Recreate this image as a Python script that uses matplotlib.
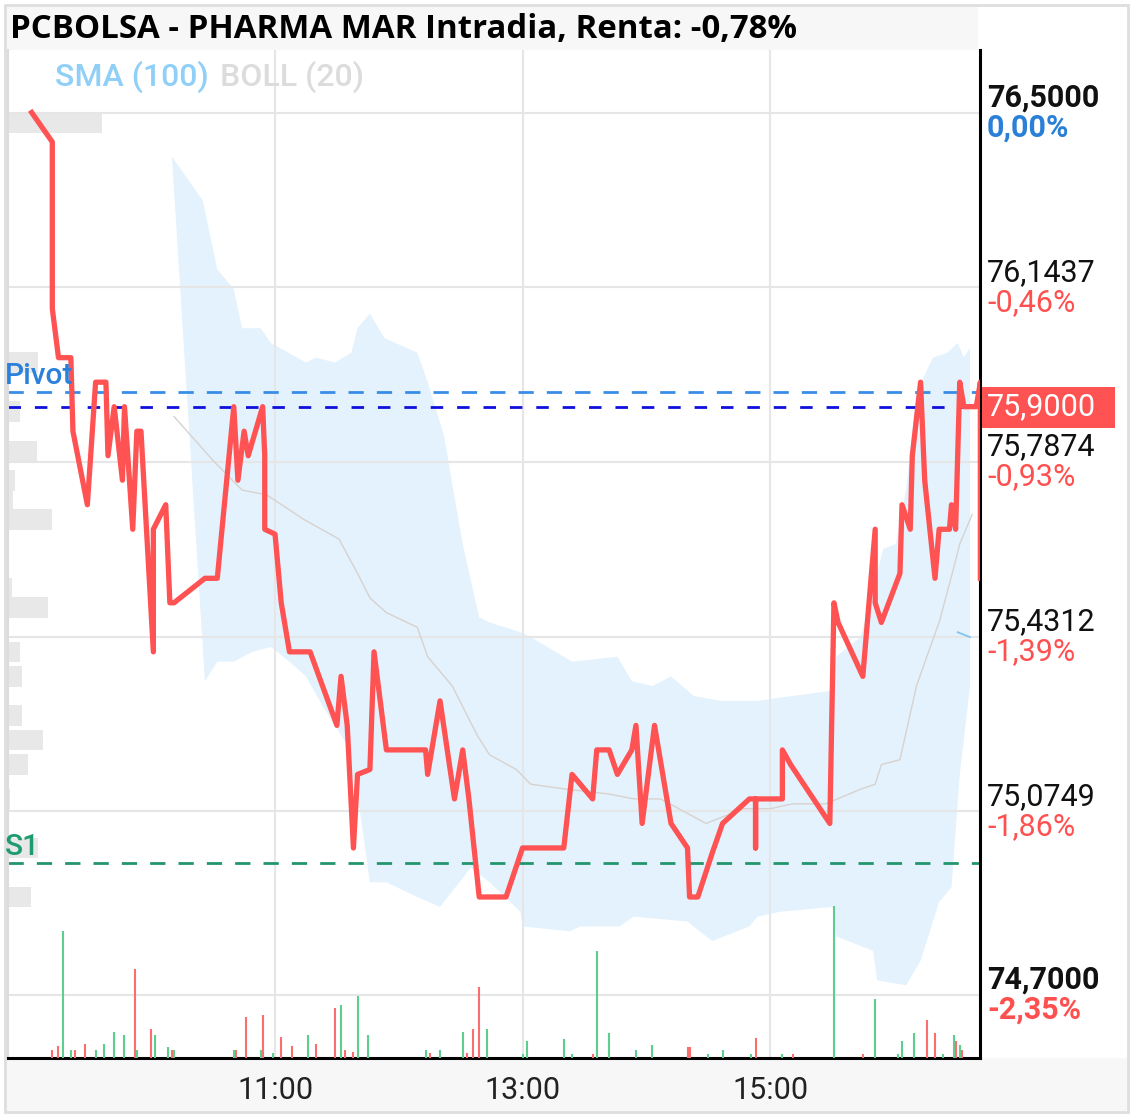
import matplotlib
matplotlib.use('Agg')
import matplotlib.pyplot as plt
from matplotlib.patches import Rectangle

# ---- data ----
title = 'PCBOLSA - PHARMA MAR Intradia, Renta: -0,78%'

# intraday price (time, price)
price_t = ['9:02', '9:12', '9:12', '9:15', '9:21', '9:22', '9:29', '9:33', '9:38', '9:39',
           '9:42', '9:46', '9:47', '9:51', '9:53', '9:55', '10:01', '10:01', '10:07', '10:09',
           '10:11', '10:26', '10:32', '10:40', '10:42', '10:45', '10:47', '10:54', '10:55', '10:55',
           '11:00', '11:03', '11:07', '11:17', '11:30', '11:32', '11:35', '11:38', '11:40', '11:46',
           '11:48', '11:54', '12:13', '12:14', '12:20', '12:27', '12:31', '12:34', '12:39', '12:52',
           '13:00', '13:20', '13:24', '13:34', '13:36', '13:42', '13:46', '13:53', '13:55', '13:58',
           '14:04', '14:12', '14:20', '14:21', '14:25', '14:32', '14:37', '14:50', '14:53', '14:53',
           '14:53', '15:06', '15:06', '15:10', '15:29', '15:31', '15:33', '15:45', '15:51', '15:51',
           '15:54', '16:03', '16:04', '16:08', '16:09', '16:13', '16:15', '16:20', '16:22', '16:27',
           '16:28', '16:30', '16:31', '16:32', '16:34', '16:40', '16:42', '16:42']
price_v = [76.50, 76.44, 76.10, 76.00, 76.00, 75.85, 75.70, 75.95, 75.95, 75.80,
           75.90, 75.75, 75.90, 75.65, 75.85, 75.85, 75.40, 75.65, 75.70, 75.50,
           75.50, 75.55, 75.55, 75.90, 75.75, 75.85, 75.80, 75.90, 75.80, 75.65,
           75.64, 75.50, 75.40, 75.40, 75.25, 75.35, 75.25, 75.00, 75.15, 75.16,
           75.40, 75.20, 75.20, 75.15, 75.30, 75.10, 75.20, 75.10, 74.90, 74.90,
           75.00, 75.00, 75.15, 75.10, 75.20, 75.20, 75.15, 75.20, 75.25, 75.05,
           75.25, 75.05, 75.00, 74.90, 74.90, 74.99, 75.05, 75.10, 75.10, 75.00,
           75.10, 75.10, 75.20, 75.17, 75.05, 75.50, 75.46, 75.35, 75.65, 75.50,
           75.46, 75.56, 75.70, 75.65, 75.80, 75.95, 75.75, 75.55, 75.65, 75.65,
           75.70, 75.65, 75.80, 75.95, 75.90, 75.90, 75.95, 75.55]

# Bollinger (20) bands
boll_up_t = ['10:10', '10:25', '10:32', '10:40', '10:44', '10:53', '10:58', '11:15', '11:20', '11:29',
             '11:37', '11:40', '11:46', '11:53', '12:09', '12:14', '12:22', '12:26', '12:31', '12:39',
             '12:44', '12:59', '13:04', '13:24', '13:46', '13:53', '14:03', '14:12', '14:23', '14:36',
             '14:54', '15:11', '15:29', '15:32', '15:44', '15:55', '16:01', '16:06', '16:11', '16:19',
             '16:26', '16:31', '16:34', '16:37']
boll_up_v = [76.41, 76.32, 76.18, 76.14, 76.06, 76.06, 76.03, 75.99, 76.00, 75.99,
             76.01, 76.06, 76.09, 76.04, 76.01, 75.95, 75.84, 75.74, 75.62, 75.47,
             75.46, 75.44, 75.43, 75.38, 75.39, 75.34, 75.33, 75.35, 75.31, 75.30,
             75.30, 75.31, 75.32, 75.39, 75.43, 75.61, 75.62, 75.73, 75.93, 76.00,
             76.01, 76.03, 76.00, 76.02]
boll_lo_t = ['10:26', '10:32', '10:40', '10:49', '10:58', '11:07', '11:15', '11:23', '11:35', '11:41',
             '11:46', '11:54', '12:09', '12:20', '12:35', '12:44', '12:59', '13:00', '13:23', '13:28',
             '13:47', '13:54', '14:20', '14:32', '14:50', '14:54', '15:05', '15:31', '15:32', '15:50',
             '15:52', '16:06', '16:13', '16:22', '16:28', '16:32', '16:37']
boll_lo_v = [75.34, 75.38, 75.38, 75.40, 75.41, 75.38, 75.35, 75.29, 75.21, 75.08,
             74.93, 74.93, 74.90, 74.88, 74.96, 74.93, 74.87, 74.84, 74.83, 74.84,
             74.84, 74.86, 74.85, 74.81, 74.84, 74.86, 74.87, 74.88, 74.82, 74.79,
             74.73, 74.72, 74.77, 74.89, 74.92, 75.15, 75.33]
boll_mid_t = ['10:11', '10:30', '10:44', '10:56', '11:14', '11:31', '11:40', '11:46', '11:54', '12:09',
              '12:14', '12:26', '12:38', '12:44', '12:57', '13:04', '13:21', '13:42', '13:54', '14:07',
              '14:29', '14:47', '15:00', '15:11', '15:27', '15:44', '15:51', '15:54', '16:03', '16:11',
              '16:16', '16:22', '16:29', '16:32', '16:38']
boll_mid_v = [75.88, 75.79, 75.73, 75.72, 75.67, 75.63, 75.56, 75.51, 75.48, 75.45,
              75.39, 75.33, 75.23, 75.19, 75.16, 75.13, 75.12, 75.11, 75.10, 75.10,
              75.05, 75.08, 75.08, 75.09, 75.09, 75.12, 75.13, 75.17, 75.18, 75.33,
              75.39, 75.46, 75.57, 75.62, 75.68]
sma_t = ['16:31', '16:37']
sma_v = [75.44, 75.43]

# volume per trade (time, shares, up/down)
vol_t = ['9:12', '9:15', '9:17', '9:21', '9:23', '9:28', '9:33', '9:37', '9:42', '9:47',
         '9:52', '9:53', '10:00', '10:02', '10:08', '10:10', '10:11', '10:40', '10:41', '10:46',
         '10:53', '10:54', '10:59', '11:03', '11:08', '11:16', '11:20', '11:29', '11:32', '11:34',
         '11:38', '11:40', '11:45', '12:13', '12:15', '12:20', '12:31', '12:33', '12:36', '12:39',
         '12:43', '13:00', '13:02', '13:20', '13:24', '13:34', '13:36', '13:42', '13:55', '14:03',
         '14:20', '14:21', '14:30', '14:37', '14:51', '14:53', '15:06', '15:11', '15:31', '15:45',
         '15:51', '16:02', '16:04', '16:10', '16:16', '16:20', '16:24', '16:29', '16:30', '16:32',
         '16:33']
vol_v = [830, 1170, 12730, 830, 830, 1400, 830, 1400, 2600, 2330,
         8930, 830, 2930, 2330, 1100, 830, 830, 830, 830, 4100,
         830, 4330, 500, 2070, 1170, 2330, 1430, 5000, 5270, 830,
         570, 6170, 2330, 830, 500, 830, 2600, 500, 2930, 7100,
         2930, 430, 1670, 1930, 430, 430, 10670, 2530, 770, 1330,
         1100, 1100, 430, 770, 430, 2000, 430, 430, 15200, 430,
         5870, 430, 1670, 2530, 3770, 2530, 430, 2270, 1670, 1330,
         830]
vol_up = [0, 0, 1, 1, 0, 0, 1, 1, 1, 1,
          0, 1, 0, 1, 1, 0, 1, 1, 0, 0,
          1, 0, 1, 0, 0, 1, 0, 0, 1, 0,
          0, 1, 1, 1, 0, 1, 1, 0, 0, 0,
          1, 1, 1, 1, 1, 0, 1, 1, 1, 1,
          0, 0, 1, 1, 1, 0, 1, 0, 1, 0,
          1, 1, 1, 1, 0, 0, 1, 1, 0, 1,
          0]

# volume at price profile
prof_price = [76.48, 75.99, 75.89, 75.81, 75.75, 75.71, 75.67, 75.53, 75.49, 75.40,
              75.35, 75.27, 75.22, 75.17, 75.10, 75.00, 74.90]
prof_vol = [94000, 30000, 12000, 29000, 7000, 5000, 44000, 4000, 40000, 12000,
            14000, 14000, 35000, 20000, 2000, 30000, 23000]

# levels and axis labels
pivot = 75.93
s1 = 74.97
last = 75.90
last_label = '75,9000'
ytick_v = [76.5, 76.1437, 75.7874, 75.4312, 75.0749, 74.7]
ytick_lab = ['76,5000', '76,1437', '75,7874', '75,4312', '75,0749', '74,7000']
ytick_pct = ['0,00%', '-0,46%', '-0,93%', '-1,39%', '-1,86%', '-2,35%']
xtick_v = ['11:00', '13:00', '15:00']


def to_h(s):
    hh, mm = s.split(':')
    return int(hh) + int(mm) / 60.0


W, H = 1133, 1118
fig = plt.figure(figsize=(W / 100, H / 100), dpi=100)
fig.patch.set_facecolor('white')

# frame, title bar and bottom strip (pixel boxes), kept behind the axes
def px_rect(x0, y0, x1, y1, **kw):
    fig.patches.append(Rectangle((x0 / W, 1 - y1 / H), (x1 - x0) / W, (y1 - y0) / H,
                                 transform=fig.transFigure, zorder=-5, **kw))

px_rect(7, 7, 978, 50, facecolor='#f7f7f7', edgecolor='none')
px_rect(7, 1058, 1127, 1111, facecolor='#f7f7f7', edgecolor='none')
px_rect(5, 5, 1128, 1112, facecolor='none', edgecolor='#dedede', linewidth=2)

# axes
ax = fig.add_axes([8 / W, 1 - 1058 / H, 972 / W, 1008 / H])
ax_prof = ax.twiny()
ax_vol = ax.twinx()
ax_prof.set_zorder(0)
ax.set_zorder(1)
ax_vol.set_zorder(2)
for a in (ax, ax_prof, ax_vol):
    a.patch.set_visible(False)

xmin, xmax = 8.842, 16.697
ax.set_xlim(xmin, xmax)
ax.set_ylim(74.5716, 76.6275)

# volume profile on the left
ax_prof.barh(prof_price, prof_vol, height=0.042, left=0, color='#e8e8e8', linewidth=0)
ax_prof.set_xlim(0, 972000)
ax_prof.axis('off')

# bollinger band
poly_x = [to_h(t) for t in boll_up_t] + [to_h(t) for t in boll_lo_t][::-1]
poly_y = boll_up_v + boll_lo_v[::-1]
ax.fill(poly_x, poly_y, color='#e3f2fd', linewidth=0, zorder=0.3)
ax.plot([to_h(t) for t in boll_mid_t], boll_mid_v, color='#d8d2ce', lw=1.0, zorder=1)
ax.plot([to_h(t) for t in sma_t], sma_v, color='#7fc4f0', lw=1.3, zorder=1)

# grid
ax.set_axisbelow(True)
ax.set_yticks(ytick_v)
ax.set_xticks([to_h(t) for t in xtick_v])
ax.grid(True, color='#e6e6e6', lw=1.5)
ax.tick_params(length=0, labelleft=False, labelbottom=False)

# pivot / last / S1
ax.axhline(pivot, color='#3a8de6', lw=2.0, ls=(0, (5.5, 4.7)), zorder=2)
ax.axhline(last, color='#1010dd', lw=2.0, ls=(0, (4.5, 5)), zorder=2)
ax.axhline(s1, color='#22956c', lw=2.0, ls=(0, (5.5, 4.7)), zorder=2)

# price line
ax.plot([to_h(t) for t in price_t], price_v, color='#ff5252', lw=3.8, zorder=3)

# volume bars
vcol = ['#5ccf8f' if u else '#fa6e6e' for u in vol_up]
ax_vol.vlines([to_h(t) for t in vol_t], 0, vol_v, colors=vcol, lw=1.5)
ax_vol.set_ylim(0, 100800)
ax_vol.set_xlim(xmin, xmax)
ax_vol.axis('off')

# spines
ax.spines['top'].set_visible(False)
ax.spines['left'].set_color('#dcdcdc')
ax.spines['left'].set_linewidth(1.5)
ax.spines['right'].set_color('black')
ax.spines['right'].set_linewidth(2.2)
ax.spines['bottom'].set_color('black')
ax.spines['bottom'].set_linewidth(2.2)

# right price labels
ytr = ax.get_yaxis_transform()
for i, v in enumerate(ytick_v):
    bold = i == 0 or i == len(ytick_v) - 1
    pc = '#2a7fd6' if ytick_pct[i].startswith('0') else '#ff5050'
    ax.annotate(ytick_lab[i], xy=(1, v), xycoords=ytr, xytext=(5, 10.8), textcoords='offset points',
                va='center', ha='left', fontsize=22, family='Roboto',
                weight='bold' if bold else 'normal', color='#111111', annotation_clip=False)
    ax.annotate(ytick_pct[i], xy=(1, v), xycoords=ytr, xytext=(5, -10.8), textcoords='offset points',
                va='center', ha='left', fontsize=22, family='Roboto',
                weight='bold' if bold else 'normal', color=pc, annotation_clip=False)

# last price box
ax.add_patch(Rectangle((1 + 2 / 972, last - 21 / 490.3), 133 / 972, 41 / 490.3, transform=ytr,
                       clip_on=False, facecolor='#ff5252', edgecolor='none', zorder=5))
ax.annotate(last_label, xy=(1, last), xycoords=ytr, xytext=(5, 0), textcoords='offset points',
            va='center', ha='left', fontsize=22, family='Roboto', color='white', zorder=6,
            annotation_clip=False)

# time labels
xtr = ax.get_xaxis_transform()
for t in xtick_v:
    ax.annotate(t, xy=(to_h(t), 0), xycoords=xtr, xytext=(0, -23.5), textcoords='offset points',
                va='center', ha='center', fontsize=22, family='Roboto', color='#222222',
                annotation_clip=False)

# level names
ax.annotate('Pivot', xy=(0, pivot), xycoords=ytr, xytext=(-2, 11.5), textcoords='offset points',
            va='center', ha='left', fontsize=21.5, family='Roboto', weight='medium', color='#2b80da')
ax.annotate('S1', xy=(0, s1), xycoords=ytr, xytext=(-2, 11.5), textcoords='offset points',
            va='center', ha='left', fontsize=21.5, family='Roboto', weight='medium', color='#1f9c6f')

# title and legend
fig.text(10 / W, 1 - 29 / H, title, va='center', ha='left', fontsize=23.8, weight='bold',
         family='Open Sans', color='black')
fig.text(55 / W, 1 - 77 / H, 'SMA (100)', va='center', ha='left', fontsize=23, weight='medium',
         family='Roboto', color='#90cff7')
fig.text(220 / W, 1 - 77 / H, 'BOLL (20)', va='center', ha='left', fontsize=23, weight='medium',
         family='Roboto', color='#dcdcdc')

fig.savefig('out.png', dpi=100)
